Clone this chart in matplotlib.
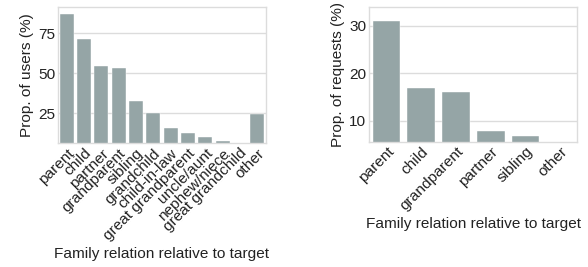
import numpy as np
import matplotlib
matplotlib.use("Agg")
import matplotlib.pyplot as plt

plt.rcParams["font.family"] = ["Liberation Sans", "DejaVu Sans"]
plt.rcParams["font.size"] = 11.1

# left panel: share of users per relation
users_rel = ["parent", "child", "partner", "grandparent", "sibling", "grandchild",
             "child-in-law", "great grandparent", "uncle/aunt", "nephew/niece",
             "great grandchild", "other"]
users_pct = [87.0, 71.5, 54.5, 53.0, 32.8, 25.0, 16.0, 12.5, 10.4, 7.6, 5.0, 24.6]

# right panel: share of requests per relation
req_rel = ["parent", "child", "grandparent", "partner", "sibling", "other"]
req_pct = [30.9, 16.8, 16.1, 7.8, 6.8, 5.0]

BAR = "#95a5a6"
GRID = "#dcdcdc"

fig = plt.figure(figsize=(5.88, 2.67), dpi=100)
ax1 = fig.add_axes([0.0986, 0.463, 0.3537, 0.510])
ax2 = fig.add_axes([0.628, 0.469, 0.354, 0.506])


def panel(ax, cats, vals, ylim, yticks, ylabel):
    x = np.arange(len(cats))
    ax.bar(x, vals, 0.8, color=BAR, edgecolor="white", linewidth=0.3, zorder=2)
    ax.set_xlim(-0.5, len(cats) - 0.5)
    ax.set_ylim(*ylim)
    ax.set_yticks(yticks)
    ax.set_xticks(x, cats, rotation=45, ha="right", rotation_mode="anchor")
    ax.tick_params(length=0, pad=2, labelcolor="#222222")
    ax.yaxis.grid(True, color=GRID, linewidth=1.0, zorder=0)
    ax.set_axisbelow(True)
    for s in ax.spines.values():
        s.set_color(GRID)
        s.set_linewidth(1.0)
    ax.set_ylabel(ylabel, color="#222222", labelpad=3)
    ax.set_xlabel("Family relation relative to target", color="#222222", labelpad=3)


panel(ax1, users_rel, users_pct, (6.25, 91.2), [25, 50, 75], "Prop. of users (%)")
panel(ax2, req_rel, req_pct, (5.6, 34.0), [10, 20, 30], "Prop. of requests (%)")

fig.savefig("out.png", dpi=100)
